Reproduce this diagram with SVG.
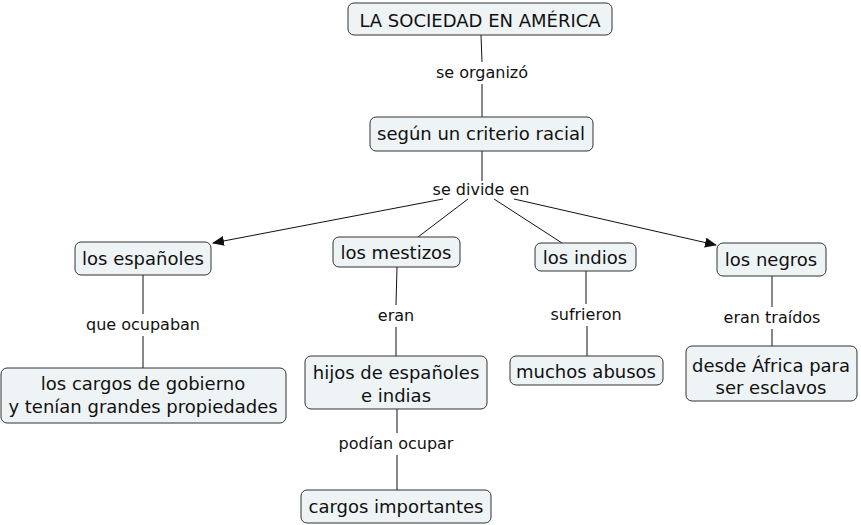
<svg xmlns="http://www.w3.org/2000/svg" width="861" height="525" viewBox="0 0 861 525">
<style>
.n{fill:#eef3f5;stroke:#333;stroke-width:1}
.t{font-family:"DejaVu Sans",Verdana,sans-serif;font-size:18px;fill:#111;text-anchor:middle}
.l{font-family:"DejaVu Sans",Verdana,sans-serif;font-size:16px;fill:#111;text-anchor:middle}
.c{stroke:#111;stroke-width:1;fill:none}
</style>
<defs>
<marker id="a" markerWidth="12" markerHeight="10" refX="11" refY="5" orient="auto" markerUnits="userSpaceOnUse">
<path d="M0,0 L12,5 L0,10 Z" fill="#111"/>
</marker>
</defs>
<rect width="861" height="525" fill="#fff"/>
<g id="connectors">
<line class="c" x1="481" y1="35" x2="482" y2="62"/>
<line class="c" x1="482" y1="84" x2="482" y2="117"/>
<line class="c" x1="482" y1="151" x2="482" y2="181"/>
<line class="c" x1="443" y1="199" x2="213" y2="243" marker-end="url(#a)"/>
<line class="c" x1="468" y1="199" x2="418" y2="237"/>
<line class="c" x1="494" y1="199" x2="562" y2="243"/>
<line class="c" x1="514" y1="199" x2="716" y2="245" marker-end="url(#a)"/>
<line class="c" x1="143" y1="275" x2="143" y2="314"/>
<line class="c" x1="143" y1="336" x2="143" y2="368"/>
<line class="c" x1="397" y1="267" x2="396" y2="305"/>
<line class="c" x1="396" y1="327" x2="396" y2="356"/>
<line class="c" x1="397" y1="409" x2="397" y2="433"/>
<line class="c" x1="397" y1="455" x2="397" y2="490"/>
<line class="c" x1="586" y1="271" x2="586" y2="304"/>
<line class="c" x1="587" y1="326" x2="587" y2="356"/>
<line class="c" x1="772" y1="276" x2="772" y2="307"/>
<line class="c" x1="772" y1="329" x2="772" y2="346"/>
<text class="l" x="482" y="78">se organizó</text>
<text class="l" x="481" y="195">se divide en</text>
<text class="l" x="143" y="330">que ocupaban</text>
<text class="l" x="396" y="321">eran</text>
<text class="l" x="396" y="449">podían ocupar</text>
<text class="l" x="586" y="320">sufrieron</text>
<text class="l" x="772" y="323">eran traídos</text>
</g>
<g id="n1"><rect class="n" x="348" y="3" width="264" height="32" rx="6"/><text class="t" x="480" y="27">LA SOCIEDAD EN AMÉRICA</text></g>
<g id="n2"><rect class="n" x="370" y="117" width="223" height="34" rx="6"/><text class="t" x="481" y="140">según un criterio racial</text></g>
<g id="n3"><rect class="n" x="75" y="242" width="136" height="33" rx="6"/><text class="t" x="143" y="265">los españoles</text></g>
<g id="n4"><rect class="n" x="333" y="237" width="127" height="30" rx="6"/><text class="t" x="396" y="259">los mestizos</text></g>
<g id="n5"><rect class="n" x="535" y="243" width="101" height="28" rx="6"/><text class="t" x="585" y="264">los indios</text></g>
<g id="n6"><rect class="n" x="717" y="243" width="109" height="33" rx="6"/><text class="t" x="771" y="266">los negros</text></g>
<g id="n7"><rect class="n" x="1" y="368" width="285" height="55" rx="6"/><text class="t" x="143" y="390">los cargos de gobierno</text><text class="t" x="143" y="413">y tenían grandes propiedades</text></g>
<g id="n8"><rect class="n" x="305" y="356" width="182" height="53" rx="6"/><text class="t" x="396" y="379">hijos de españoles</text><text class="t" x="396" y="402">e indias</text></g>
<g id="n9"><rect class="n" x="301" y="490" width="190" height="33" rx="6"/><text class="t" x="396" y="513">cargos importantes</text></g>
<g id="n10"><rect class="n" x="510" y="356" width="153" height="29" rx="6"/><text class="t" x="586" y="378">muchos abusos</text></g>
<g id="n11"><rect class="n" x="686" y="346" width="171" height="55" rx="6"/><text class="t" x="771" y="372">desde África para</text><text class="t" x="771" y="394">ser esclavos</text></g>
</svg>
